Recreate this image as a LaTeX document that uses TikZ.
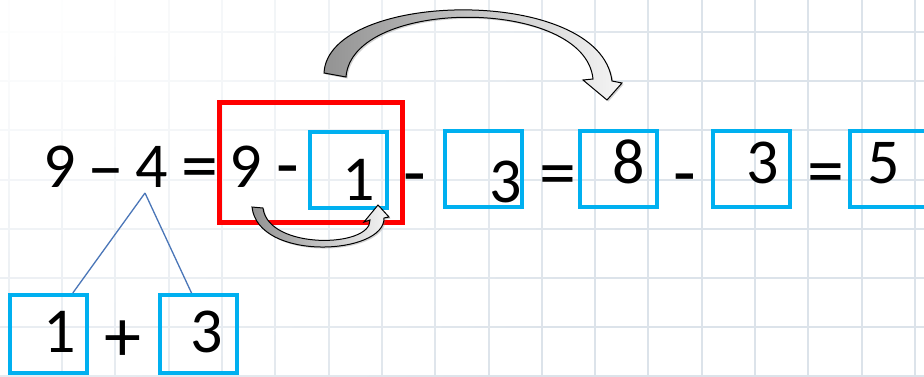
\documentclass[tikz,border=0pt]{standalone}
\usepackage{fontspec}
\setmainfont{Carlito}
\usetikzlibrary{fadings,shadows,calc}
\tikzfading[name=radfade, inner color=transparent!0, outer color=transparent!100]
\definecolor{boxblue}{HTML}{00B0F0}
\definecolor{gridc}{HTML}{DCE3EA}
\definecolor{treeblue}{HTML}{4A76B8}
\begin{document}
\begin{tikzpicture}[x=1pt,y=-1pt,
  dig/.style={anchor=base, inner sep=0pt, font=\fontsize{64}{70}\selectfont},
  sym/.style={anchor=base, inner sep=0pt, font=\fontsize{74}{80}\selectfont},
  bluebox/.style={draw=boxblue, line width=4pt, minimum width=77pt, minimum height=76pt, inner sep=0pt},
  redbox/.style={draw=red, line width=5pt, minimum width=183pt, minimum height=120pt, inner sep=0pt},
  gridline/.style={draw=gridc, line width=2pt},
  curvearrow/.style={draw=black, line width=1pt, left color=gray!85, right color=gray!8,
     drop shadow={shadow xshift=1.5pt, shadow yshift=-1.5pt, opacity=0.35}},
  treeline/.style={draw=treeblue, line width=1.3pt}]
\useasboundingbox (0,0) rectangle (924,376);
\clip (0,0) rectangle (924,376);
\fill[white] (0,0) rectangle (924,376);
% grid
\foreach \i in {0,...,17} \draw[gridline] ({8.8+53.3*\i},0) -- ({8.8+53.3*\i},376);
\foreach \j in {0,...,7} \draw[gridline] (0,{32+49.2*\j}) -- (924,{32+49.2*\j});
\fill[white, path fading=radfade] (40,10) ellipse (660 and 520);
% boxes
\node[redbox] (rb) at (310.5,162) {};
\node[bluebox] (b1) at (348.5,169.5) {};
\node[bluebox] (b2) at (483.5,169) {};
\node[bluebox] (b3) at (618.5,169) {};
\node[bluebox] (b4) at (751.5,169) {};
\node[bluebox] (b5) at (888.5,169) {};
\node[bluebox, minimum height=78pt] (l1) at (48.5,334) {};
\node[bluebox, minimum height=78pt] (l2) at (198,334) {};
% texts
\node[dig] (t9) at (59.5,187) {9};
\node[sym] (tdash) at (106,191) {–};
\node[dig] (t4) at (151.5,187) {4};
\node[sym] (teq1) at (200,190) {=};
\node[dig] (t9b) at (245.5,187) {9};
\node[sym] (tm1) at (287.5,189) {-};
\node[dig] (t1) at (359,200) {1};
\node[sym] (tm2) at (415,197) {-};
\node[dig] (t3a) at (505.5,202) {3};
\node[sym] (teq2) at (557.5,197) {=};
\node[dig] (t8) at (629,183) {8};
\node[sym] (tm3) at (685,197) {-};
\node[dig] (t3b) at (762.5,183) {3};
\node[sym] (teq3) at (826,195) {=};
\node[dig] (t5) at (883.5,183) {5};
\node[dig] (tl1) at (60,352) {1};
\node[sym] (tplus) at (122.5,361) {+};
\node[dig] (tl2) at (206.5,352) {3};
% tree
\coordinate (apex) at (145,193);
\draw[treeline] (apex) -- ($(l1.north west)!0.8!(l1.north east)$);
\draw[treeline] (apex) -- ($(l2.north west)!0.42!(l2.north east)$);
% curved arrows
\path[curvearrow] (324,73) .. controls (328,-10) and (600,-15) .. (612,81)
  -- (622,83) -- (607,100) -- (583,80) -- (593,79)
  .. controls (585,-3) and (352,-3) .. (346,77) -- cycle;
\path[curvearrow] (252,207) .. controls (258,262) and (385,255) .. (384,218)
  -- (389,217) -- (378,205) -- (364,222) -- (370,220)
  .. controls (371,248) and (268,250) .. (263,208) -- cycle;
\end{tikzpicture}
\end{document}
